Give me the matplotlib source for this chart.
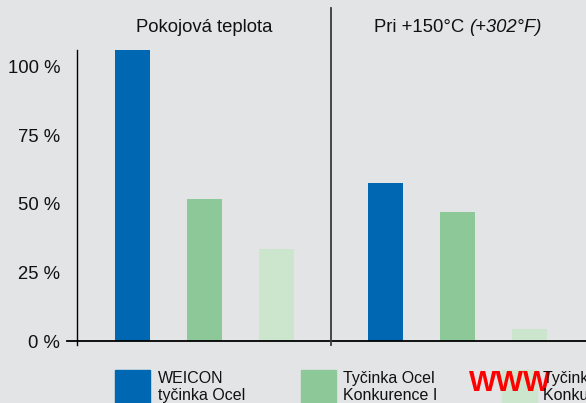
import matplotlib
matplotlib.use("Agg")
import matplotlib.pyplot as plt
import matplotlib.transforms as mtransforms
from matplotlib.patches import Rectangle
from matplotlib.lines import Line2D
import numpy as np

plt.rcParams['font.family'] = ['Liberation Sans', 'DejaVu Sans']

groups = ["Pokojová teplota", "Pri +150°C"]
group2_suffix = "(+302°F)"
series = ["WEICON\ntyčinka Ocel", "Tyčinka Ocel\nKonkurence I", "Tyčinka Ocel\nKonkurence II"]
values = {
    "WEICON\ntyčinka Ocel": [106.2, 57.7],
    "Tyčinka Ocel\nKonkurence I": [51.8, 47.1],
    "Tyčinka Ocel\nKonkurence II": [33.6, 4.4],
}
colors = ["#0068b3", "#8dc898", "#cce6cd"]
ytick_vals = [0, 25, 50, 75, 100]
ytick_labels = ["0 %", "25 %", "50 %", "75 %", "100 %"]

W, H = 586, 403
fig = plt.figure(figsize=(W / 100, H / 100), dpi=100)
bg = "#e3e4e6"
fig.patch.set_facecolor(bg)

# axes: x from px 77 to 586, y from px 341 (zero) to 50
ax = fig.add_axes([77 / W, (H - 341) / H, (W - 77) / W, (341 - 50) / H])
ax.set_facecolor("none")

gx = np.arange(len(groups))
offset = 72 / 253
width = 35 / 253
for i, s in enumerate(series):
    ax.bar(gx + (i - 1) * offset, values[s], width=width, color=colors[i], zorder=3)

ax.set_xlim(-0.504, 1.508)
ax.set_ylim(0, 106.2)
for sp in ax.spines.values():
    sp.set_visible(False)
ax.set_xticks([])
ax.set_yticks(ytick_vals)
ax.set_yticklabels(ytick_labels, fontsize=13.3, color="#111111")
ax.tick_params(axis="y", length=0, pad=12.2)

# y axis line (at left edge of axes)
trans_y = mtransforms.blended_transform_factory(ax.transAxes, ax.transData)
ax.add_line(Line2D([0, 0], [-1.5, 106.2], transform=trans_y, color="black", lw=1.0,
                   clip_on=False, zorder=4))
# x axis line extending left
ax.add_line(Line2D([-10 / 509, 1], [0, 0], transform=trans_y, color="black", lw=1.3,
                   clip_on=False, zorder=4))
# divider between groups
trans_div = mtransforms.blended_transform_factory(ax.transData, fig.transFigure)
ax.add_line(Line2D([0.5, 0.5], [(H - 345) / H, (H - 8) / H], transform=trans_div,
                   color="#3a3a3a", lw=1.3, clip_on=False, zorder=4))

# group titles
ax.text(0, (H - 27) / H, groups[0], transform=trans_div, ha="center", va="center",
        fontsize=13.3, color="#111111")
t1 = fig.text(374 / W, (H - 27) / H, groups[1] + " ", ha="left", va="center",
              fontsize=13.3, color="#111111")
fig.canvas.draw()
bb = t1.get_window_extent(renderer=fig.canvas.get_renderer())
fig.text(bb.x1 / W, (H - 27) / H, group2_suffix, ha="left", va="center",
         fontsize=13.3, color="#111111", style="italic")

# legend drawn manually
leg_sq_x = [115, 301, 502]
leg_txt_x = [158, 343, 543]
for i, s in enumerate(series):
    fig.add_artist(Rectangle((leg_sq_x[i] / W, (H - 405) / H), 35 / W, 35 / H,
                             transform=fig.transFigure, color=colors[i], zorder=2))
    if i == 2:
        fig.text(469 / W, (H - 391) / H, "WWW", color="#ff0000", fontsize=21,
                 fontweight="bold", ha="left", va="baseline", zorder=3)
    for j, line in enumerate(s.split("\n")):
        fig.text(leg_txt_x[i] / W, (H - 383 - 17 * j) / H, line, fontsize=11.5,
                 color="#111111", ha="left", va="baseline", zorder=4)

fig.savefig("out.png", dpi=100, facecolor=bg)
